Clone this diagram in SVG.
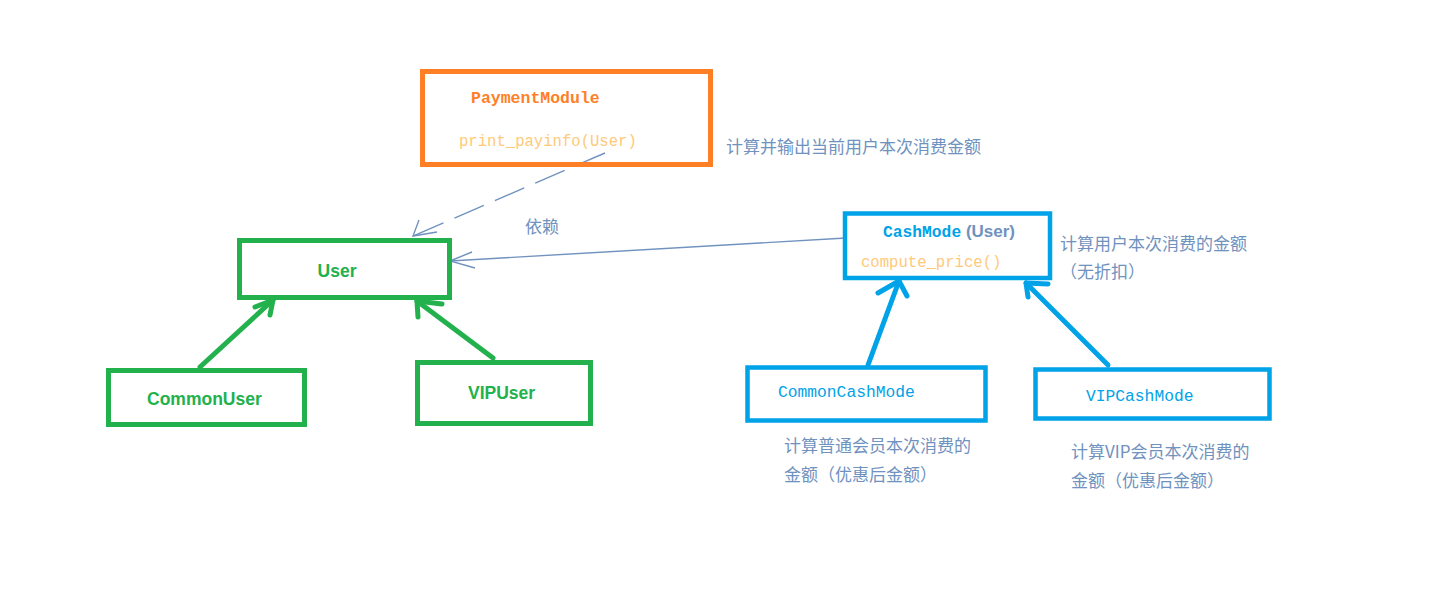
<svg xmlns="http://www.w3.org/2000/svg" width="1435" height="603" viewBox="0 0 1435 603">
<style>
.bg{fill:#fff}
.g{fill:none;stroke:#22B14C;stroke-width:5}
.o{fill:none;stroke:#FF7F27;stroke-width:5}
.b{fill:none;stroke:#00A2E8;stroke-width:4.5}
.ga{fill:none;stroke:#22B14C;stroke-width:5;stroke-linecap:round;stroke-linejoin:round}
.ba{fill:none;stroke:#00A2E8;stroke-width:5;stroke-linecap:round;stroke-linejoin:round}
.dep{fill:none;stroke:#7092BE;stroke-width:1.4}
.gt{font-family:"Liberation Sans","Noto Sans",sans-serif;font-weight:bold;font-size:17.5px;fill:#22B14C}
.mono{font-family:"Liberation Mono","DejaVu Sans Mono",monospace}
.cn{font-family:"Noto Sans CJK SC","Liberation Sans",sans-serif;font-size:17px;fill:#7092BE}
</style>
<rect class="bg" x="0" y="0" width="1435" height="603"/>
<g id="connectors">
  <path class="dep" d="M605,153 L413,236" stroke-dasharray="32 12"/>
  <path class="dep" d="M419,220 L413,236 L437,232"/>
  <path class="dep" d="M846,238 L450,261"/>
  <path class="dep" d="M472,252 L450,261 L475,268"/>
  <path class="ga" d="M200,367 L273,300"/>
  <path class="ga" d="M255,307 L273,300 L270,315"/>
  <path class="ga" d="M493,358 L417,301"/>
  <path class="ga" d="M442,304 L417,301 L418,317"/>
  <path class="ba" d="M868,365 L899,281"/>
  <path class="ba" d="M878,293 L899,281 L907,296"/>
  <path class="ba" d="M1108,365 L1026,283"/>
  <path class="ba" d="M1048,284 L1026,283 L1028,297"/>
  <text class="cn" x="525" y="233">依赖</text>
</g>
<g id="PaymentModule">
  <rect class="o" x="422.5" y="71.5" width="288" height="93"/>
  <text class="mono" x="471" y="103" font-size="16.5" font-weight="bold" fill="#FF7F27">PaymentModule</text>
  <text class="mono" x="459" y="146" font-size="15.6" fill="#FFC97A">print_payinfo(User)</text>
  <text class="cn" x="726" y="153">计算并输出当前用户本次消费金额</text>
</g>
<g id="User">
  <rect class="g" x="239.5" y="240.5" width="210" height="57"/>
  <text class="gt" x="337" y="277" text-anchor="middle">User</text>
</g>
<g id="CommonUser">
  <rect class="g" x="108.5" y="370.5" width="196" height="54"/>
  <text class="gt" x="147" y="405">CommonUser</text>
</g>
<g id="VIPUser">
  <rect class="g" x="417.5" y="362.5" width="173" height="61"/>
  <text class="gt" x="468" y="399">VIPUser</text>
</g>
<g id="CashMode">
  <rect class="b" x="845" y="213.5" width="205" height="64.5"/>
  <text x="883" y="237"><tspan class="mono" font-size="16.3" font-weight="bold" fill="#00A2E8">CashMode</tspan><tspan font-family="Liberation Sans, sans-serif" font-size="17" font-weight="bold" fill="#7092BE"> (User)</tspan></text>
  <text class="mono" x="861" y="267" font-size="15.6" fill="#FFC97A">compute_price()</text>
  <text class="cn" x="1060" y="250">计算用户本次消费的金额</text>
  <text class="cn" x="1060" y="278">（无折扣）</text>
</g>
<g id="CommonCashMode">
  <rect class="b" x="747.5" y="367.5" width="238" height="53"/>
  <text class="mono" x="778" y="397" font-size="16.3" fill="#00A2E8">CommonCashMode</text>
  <text class="cn" x="784" y="452">计算普通会员本次消费的</text>
  <text class="cn" x="784" y="481">金额（优惠后金额）</text>
</g>
<g id="VIPCashMode">
  <rect class="b" x="1035.5" y="369.5" width="234" height="49"/>
  <text class="mono" x="1086" y="401" font-size="16.3" fill="#00A2E8">VIPCashMode</text>
  <text class="cn" x="1071" y="458">计算VIP会员本次消费的</text>
  <text class="cn" x="1071" y="487">金额（优惠后金额）</text>
</g>
</svg>
